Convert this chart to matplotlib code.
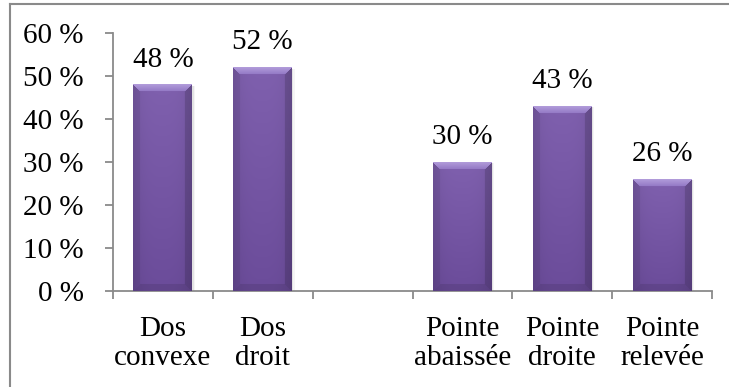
import numpy as np
import matplotlib
matplotlib.use("Agg")
import matplotlib.pyplot as plt
from matplotlib.lines import Line2D
from matplotlib.ticker import FixedLocator, FuncFormatter, NullFormatter

categories = ["Dos\nconvexe", "Dos\ndroit", "", "Pointe\nabaissée", "Pointe\ndroite", "Pointe\nrelevée"]
values = [48, 52, None, 30, 43, 26]
y_ticks = [0, 10, 20, 30, 40, 50, 60]

plt.rcParams["font.family"] = ["Liberation Serif", "DejaVu Serif"]
GREY = "#8a8a8a"
FS = 21


def hex_rgb(h):
    h = h.lstrip("#")
    return np.array([int(h[i:i + 2], 16) for i in (0, 2, 4)]) / 255.0


def bevel_image(w, h, b=7):
    """RGB array for a bevelled purple bar, w x h pixels."""
    w, h = max(int(w), 2), max(int(h), 2)
    yy, xx = np.mgrid[0:h, 0:w]
    dl, dr, dt, db = xx, w - 1 - xx, yy, h - 1 - yy
    # interior: lighter at top, darker towards the base
    top_c, bot_c = hex_rgb("#7f60ae"), hex_rgb("#6b4c9a")
    t = (yy / (h - 1))[..., None]
    img = top_c * (1 - t) + bot_c * t
    # slight darkening towards the sides
    u = np.abs(xx - (w - 1) / 2) / ((w - 1) / 2)
    img = img * (1 - 0.08 * u[..., None] ** 3)
    m = np.minimum.reduce([dl, dr, dt, db])
    edge = m < b
    nearest = np.argmin(np.stack([dt, dl, dr, db]), axis=0)
    # top face fades from pale lavender into the bar colour
    top_bevel = edge & (nearest == 0)
    s = (dt[top_bevel] / b)[:, None]
    img[top_bevel] = hex_rgb("#b09ad9") * (1 - s) + hex_rgb("#9277c4") * s
    for k, f in ((1, 0.93), (2, 0.85), (3, 0.9)):
        sel = edge & (nearest == k)
        img[sel] = img[sel] * f
    return img


fig = plt.figure(figsize=(7.29, 3.87), dpi=100)
ax = fig.add_axes([113 / 729, 1 - 291 / 387, 599 / 729, 258 / 387])

x = [i for i, v in enumerate(values) if v is not None]
heights = [v for v in values if v is not None]
bars = ax.bar(x, heights, width=0.59, color="#7b5ba9", zorder=2)

ax.set_xlim(-0.5, len(categories) - 0.5)
ax.set_ylim(0, 60)

fig.canvas.draw()
for bar, v in zip(bars, heights):
    x0, y0 = bar.get_x(), 0
    x1, y1 = x0 + bar.get_width(), v
    p0 = ax.transData.transform((x0, y0))
    p1 = ax.transData.transform((x1, y1))
    # soft shadow on the right
    for off, a in ((0.012, 0.07), (0.024, 0.04)):
        ax.bar(bar.get_x() + bar.get_width() / 2 + off, v - 0.3, width=bar.get_width(),
               color="#000000", alpha=a, zorder=1, linewidth=0)
    img = bevel_image(p1[0] - p0[0], p1[1] - p0[1])
    ax.imshow(img, extent=(x0, x1, y0, y1), aspect="auto",
              interpolation="bilinear", zorder=3)
    ax.annotate(f"{v} %", (bar.get_x() + bar.get_width() / 2, v),
                xytext=(0, 13), textcoords="offset points",
                ha="center", va="baseline", fontsize=FS, color="black")

ax.set_xlim(-0.5, len(categories) - 0.5)
ax.set_ylim(0, 60)
ax.set_aspect("auto")

# category ticks sit between the bars, labels under them
ax.xaxis.set_major_locator(FixedLocator(np.arange(-0.5, len(categories), 1.0)))
ax.xaxis.set_major_formatter(NullFormatter())
ax.xaxis.set_minor_locator(FixedLocator(range(len(categories))))
ax.set_xticklabels(categories, minor=True)
ax.tick_params(axis="x", which="major", direction="out", length=6, width=1.3, color=GREY)
ax.tick_params(axis="x", which="minor", length=0, pad=18, labelsize=FS)
for lbl in ax.get_xticklabels(minor=True):
    lbl.set_linespacing(1.15)

ax.set_yticks(y_ticks)
ax.yaxis.set_major_formatter(FuncFormatter(lambda v, p: f"{int(v)} %"))
ax.tick_params(axis="y", direction="out", length=6, width=1.3, color=GREY, pad=15, labelsize=FS)

for side in ("top", "right"):
    ax.spines[side].set_visible(False)
for side in ("left", "bottom"):
    ax.spines[side].set_color(GREY)
    ax.spines[side].set_linewidth(1.3)

# chart area frame
fig.add_artist(Line2D([9.5 / 729, 9.5 / 729], [0, 1 - 4 / 387], transform=fig.transFigure,
                      color=GREY, linewidth=1.5))
fig.add_artist(Line2D([9.5 / 729, 1], [1 - 4 / 387, 1 - 4 / 387], transform=fig.transFigure,
                      color=GREY, linewidth=1.5))

fig.savefig("out.png", dpi=100, facecolor="white")
